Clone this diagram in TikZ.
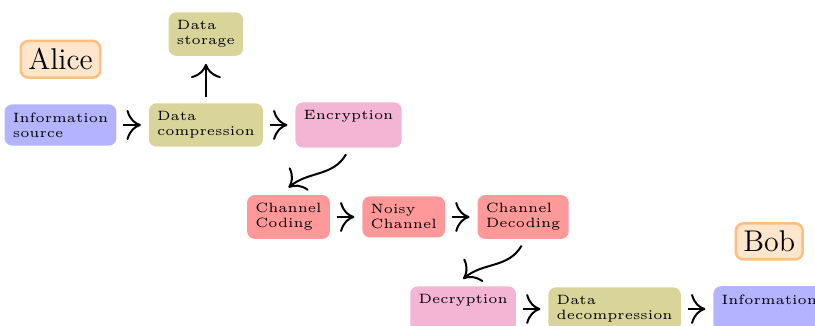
\RequirePackage{fix-cm}
\documentclass[tikz,border=0pt]{standalone}
\usetikzlibrary{positioning, arrows.meta}

\definecolor{srcblue}{RGB}{179,179,255}
\definecolor{zipolive}{RGB}{217,212,154}
\definecolor{cryptpink}{RGB}{244,180,212}
\definecolor{chanred}{RGB}{255,153,153}

\begin{document}
\begin{tikzpicture}[
        x=0.4pt, y=0.4pt,
        node distance=18.6pt and 12.6pt,
        box/.style={
          rectangle,
          rounded corners=3pt,
          align=left,
          font=\fontsize{5.4}{6}\selectfont,
          inner sep=3.3pt
        },
        srcbox/.style={box, fill=srcblue},
        zipbox/.style={box, fill=zipolive},
        cryptbox/.style={box, fill=cryptpink},
        chanbox/.style={box, fill=chanred},
        person/.style={
          rectangle,
          rounded corners=3pt,
          draw=orange!50,
          fill=orange!20,
          line width=1pt,
          font=\large,
          inner sep=3pt
        },
        line/.style={-{To[scale=1.7]}, thick, shorten >=3pt, shorten <=2.5pt},
        hop/.style={-{To[scale=1.7]}, thick, out=-120, in=40}
    ]
    \clip (0,0) rectangle (815,-326);

    % Sender side
    \node[srcbox] (source) at (60.5,-125) {Information\\source};
    \node[zipbox, right=of source] (compress) {Data\\compression};
    \node[zipbox, above=of compress] (storage) {Data\\storage};
    \node[cryptbox, right=of compress] (encrypt) {Encryption\\\strut};
    \node[person, above=10pt of source] (alice) {Alice};

    % Channel
    \node[chanbox, below=of encrypt, xshift=-24pt] (chcode) {Channel\\Coding};
    \node[chanbox, right=of chcode] (noisy) {Noisy\\Channel};
    \node[chanbox, right=of noisy] (chdecode) {Channel\\Decoding};

    % Receiver side
    \node[cryptbox, below=of chdecode, xshift=-24pt] (decrypt) {Decryption\\\strut};
    \node[zipbox, right=of decrypt] (decompress) {Data\\decompression};
    \node[srcbox, right=of decompress] (sink) {Information\\\strut};
    \node[person, above=10pt of sink] (bob) {Bob};

    % Connect the nodes
    \draw[line] (source) -- (compress);
    \draw[line] (compress) -- (encrypt);
    \draw[line] (compress) -- (storage);
    \draw[hop] ([xshift=-1pt, yshift=-2.5pt]encrypt.south) to ([yshift=2.8pt]chcode.north);
    \draw[line] (chcode) -- (noisy);
    \draw[line] (noisy) -- (chdecode);
    \draw[hop] ([xshift=-0.6pt, yshift=-2.5pt]chdecode.south) to ([yshift=2.8pt]decrypt.north);
    \draw[line] (decrypt) -- (decompress);
    \draw[line] (decompress) -- (sink);
\end{tikzpicture}
\end{document}
